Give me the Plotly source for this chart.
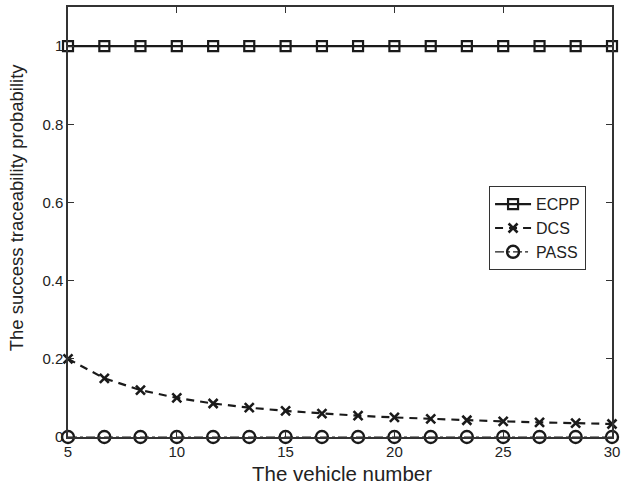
import plotly.graph_objects as go

vehicle_number = [5, 6.67, 8.33, 10, 11.67, 13.33, 15, 16.67, 18.33, 20, 21.67, 23.33, 25, 26.67, 28.33, 30]
ecpp = [1.0] * 16
dcs = [0.2, 0.15, 0.12, 0.1, 0.0857, 0.075, 0.0667, 0.06, 0.0545, 0.05, 0.0462, 0.0429, 0.04, 0.0375, 0.0353, 0.0333]
pass_ = [0.0] * 16

x_ticks = [5, 10, 15, 20, 25, 30]
y_ticks = [0, 0.2, 0.4, 0.6, 0.8, 1]
y_tick_labels = ["0", "0.2", "0.4", "0.6", "0.8", "1"]

FONT = "Liberation Sans, Arial, Helvetica, sans-serif"

fig = go.Figure()
fig.add_trace(go.Scatter(
    x=vehicle_number, y=ecpp, name="ECPP", mode="lines+markers",
    line=dict(color="#1a1a1a", width=2.2, dash="solid"),
    marker=dict(symbol="square-open", size=10, color="#1a1a1a", line=dict(width=2.2)),
    cliponaxis=False))
fig.add_trace(go.Scatter(
    x=vehicle_number, y=dcs, name="DCS", mode="lines+markers",
    line=dict(color="#1a1a1a", width=2.2, dash="8px,6px"),
    marker=dict(symbol="x-thin-open", size=9, color="#1a1a1a", line=dict(width=2.6)),
    cliponaxis=False))
fig.add_trace(go.Scatter(
    x=vehicle_number, y=pass_, name="PASS", mode="lines+markers",
    line=dict(color="#1a1a1a", width=1.2, dash="dashdot"),
    marker=dict(symbol="circle-open", size=12, color="#1a1a1a", line=dict(width=2.4)),
    cliponaxis=False))

axis_common = dict(
    showgrid=False, zeroline=False, showline=True, linecolor="#333333", linewidth=1.5,
    mirror="ticks", ticks="inside", ticklen=6, tickcolor="#333333",
    tickfont=dict(family=FONT, size=15, color="#222222"),
    ticklabeloverflow="allow",
)

fig.update_layout(
    width=625, height=486,
    margin=dict(l=68, r=8, t=5, b=49),
    paper_bgcolor="white", plot_bgcolor="white",
    font=dict(family=FONT, color="#222222"),
    showlegend=True,
    legend=dict(
        x=0.774, y=0.583, xanchor="left", yanchor="top",
        bgcolor="white", bordercolor="#333333", borderwidth=1,
        font=dict(family=FONT, size=16, color="#222222"),
        itemwidth=36, tracegroupgap=0,
    ),
    xaxis=dict(range=[5, 30], tickvals=x_ticks, ticktext=[str(v) for v in x_ticks], **axis_common),
    yaxis=dict(range=[0, 1.1], tickvals=y_ticks, ticktext=y_tick_labels, **axis_common),
    annotations=[
        dict(text="The vehicle number", xref="paper", yref="paper",
             x=0.503, y=-0.086, xanchor="center", yanchor="middle", showarrow=False,
             font=dict(family=FONT, size=20.5, color="#222222")),
        dict(text="The success traceability probability", xref="paper", yref="paper",
             x=-0.093, y=0.535, xanchor="center", yanchor="middle", showarrow=False,
             textangle=-90, font=dict(family=FONT, size=18.5, color="#222222")),
    ],
)

fig.write_html("out.html", post_script="document.body.style.margin='0px';",
               config={"displayModeBar": False})
